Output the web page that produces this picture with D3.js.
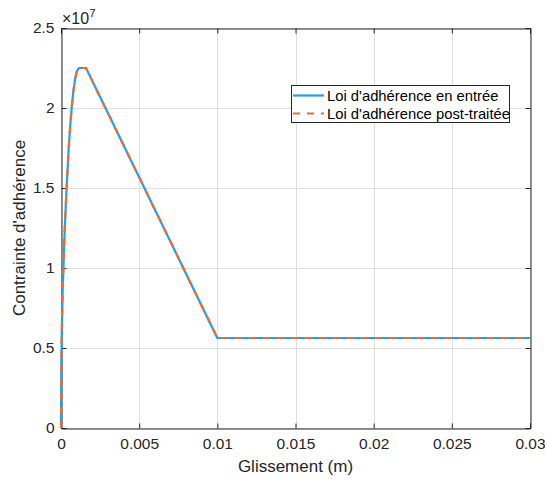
<!DOCTYPE html>
<html><head><meta charset="utf-8">
<script src="https://cdn.jsdelivr.net/npm/d3@7"></script>
<style>body{margin:0;background:#fff;} svg{display:block;font-family:"Liberation Sans",Arial,Helvetica,sans-serif;}</style>
</head><body>
<svg id="chart" width="545" height="480"></svg>
<script>
// Data (slip in m, bond stress in Pa)
const slipInput = [0, 0.00002, 0.00005, 0.0001, 0.0002, 0.0003, 0.0004, 0.0005, 0.0006, 0.0007, 0.0008, 0.0009, 0.001, 0.0011, 0.0012, 0.0016, 0.01, 0.03];
const stressInput = [0, 0.40e7, 0.60e7, 0.83e7, 1.14e7, 1.38e7, 1.58e7, 1.76e7, 1.90e7, 2.02e7, 2.11e7, 2.18e7, 2.225e7, 2.245e7, 2.25e7, 2.25e7, 0.5625e7, 0.5625e7];
const slipPost = [0, 0.00002, 0.00005, 0.0001, 0.0002, 0.0003, 0.0004, 0.0005, 0.0006, 0.0007, 0.0008, 0.0009, 0.001, 0.0011, 0.0012, 0.0016, 0.01, 0.03];
const stressPost = [0, 0.40e7, 0.60e7, 0.83e7, 1.14e7, 1.38e7, 1.58e7, 1.76e7, 1.90e7, 2.02e7, 2.11e7, 2.18e7, 2.225e7, 2.245e7, 2.25e7, 2.25e7, 0.5625e7, 0.5625e7];
const xTicks = [0, 0.005, 0.01, 0.015, 0.02, 0.025, 0.03];
const xTickLabels = ["0", "0.005", "0.01", "0.015", "0.02", "0.025", "0.03"];
const yTicks = [0, 0.5e7, 1e7, 1.5e7, 2e7, 2.5e7];
const yTickLabels = ["0", "0.5", "1", "1.5", "2", "2.5"];
const seriesNames = ["Loi d'adhérence en entrée", "Loi d'adhérence post-traitée"];
const xLabel = "Glissement (m)";
const yLabel = "Contrainte d'adhérence";

const L = 61, R = 530, T = 28, B = 428;
const axisColor = "#262626";
const svg = d3.select("#chart");
const x = d3.scaleLinear().domain([0, 0.03]).range([L, R]);
const y = d3.scaleLinear().domain([0, 2.5e7]).range([B, T]);

// grid
const g = svg.append("g");
g.selectAll(".gx").data(xTicks).enter().append("line")
  .attr("x1", d => Math.round(x(d)) + 0.5).attr("x2", d => Math.round(x(d)) + 0.5)
  .attr("y1", T).attr("y2", B).attr("stroke", "#dfdfdf").attr("stroke-width", 1);
g.selectAll(".gy").data(yTicks).enter().append("line")
  .attr("y1", d => Math.round(y(d)) + 0.5).attr("y2", d => Math.round(y(d)) + 0.5)
  .attr("x1", L).attr("x2", R).attr("stroke", "#dfdfdf").attr("stroke-width", 1);

// axes with inward ticks on all sides
const tl = 5;
const ax = svg.append("g");
ax.append("g").attr("transform", `translate(0,${B + 0.5})`)
  .call(d3.axisBottom(x).tickValues(xTicks).tickSize(-tl).tickFormat((d, i) => xTickLabels[i]).tickPadding(9));
ax.append("g").attr("transform", `translate(0,${T + 0.5})`)
  .call(d3.axisTop(x).tickValues(xTicks).tickSize(-tl).tickFormat(""));
ax.append("g").attr("transform", `translate(${L + 0.5},0)`)
  .call(d3.axisLeft(y).tickValues(yTicks).tickSize(-tl).tickFormat((d, i) => yTickLabels[i]).tickPadding(7));
ax.append("g").attr("transform", `translate(${R + 0.5},0)`)
  .call(d3.axisRight(y).tickValues(yTicks).tickSize(-tl).tickFormat(""));
ax.selectAll("path.domain").attr("stroke", axisColor);
ax.selectAll(".tick line").attr("stroke", axisColor);
ax.selectAll(".tick text").attr("fill", axisColor).attr("font-size", 15.5)
  .attr("font-family", "Liberation Sans, Arial, sans-serif");

// lines
const lineGen = d3.line().x(d => x(d[0])).y(d => y(d[1]));
const inputData = slipInput.map((s, i) => [s, stressInput[i]]);
const postData = slipPost.map((s, i) => [s, stressPost[i]]);
svg.append("path").datum(inputData).attr("d", lineGen).attr("fill", "none")
  .attr("stroke", "#1ea0f0").attr("stroke-width", 2.2).attr("stroke-linejoin", "round");
svg.append("path").datum(postData).attr("d", lineGen).attr("fill", "none")
  .attr("stroke", "#f26a2e").attr("stroke-width", 2.2).attr("stroke-dasharray", "7,7");

// exponent label
const ex = svg.append("text").attr("x", 62).attr("y", 24).attr("fill", axisColor)
  .attr("font-size", 16);
ex.append("tspan").text("×10");
ex.append("tspan").attr("font-size", 11.5).attr("dy", -7).text("7");

// axis labels
svg.append("text").attr("x", (L + R) / 2).attr("y", 472).attr("text-anchor", "middle")
  .attr("fill", axisColor).attr("font-size", 17).text(xLabel);
svg.append("text").attr("transform", `translate(25,${(T + B) / 2}) rotate(-90)`)
  .attr("text-anchor", "middle").attr("fill", axisColor).attr("font-size", 17).text(yLabel);

// legend
const lg = svg.append("g");
lg.append("rect").attr("x", 291.5).attr("y", 85.5).attr("width", 218).attr("height", 37)
  .attr("fill", "#fff").attr("stroke", axisColor).attr("stroke-width", 1);
const colors = ["#1ea0f0", "#f26a2e"];
const dashes = [null, "7,7"];
seriesNames.forEach((n, i) => {
  const yy = 95.5 + i * 18;
  lg.append("line").attr("x1", 293).attr("x2", 324).attr("y1", yy).attr("y2", yy)
    .attr("stroke", colors[i]).attr("stroke-width", 2.2).attr("stroke-dasharray", dashes[i]);
  lg.append("text").attr("x", 327).attr("y", yy + 5).attr("fill", "#000")
    .attr("font-size", 14.8).text(n);
});
</script>
</body></html>
